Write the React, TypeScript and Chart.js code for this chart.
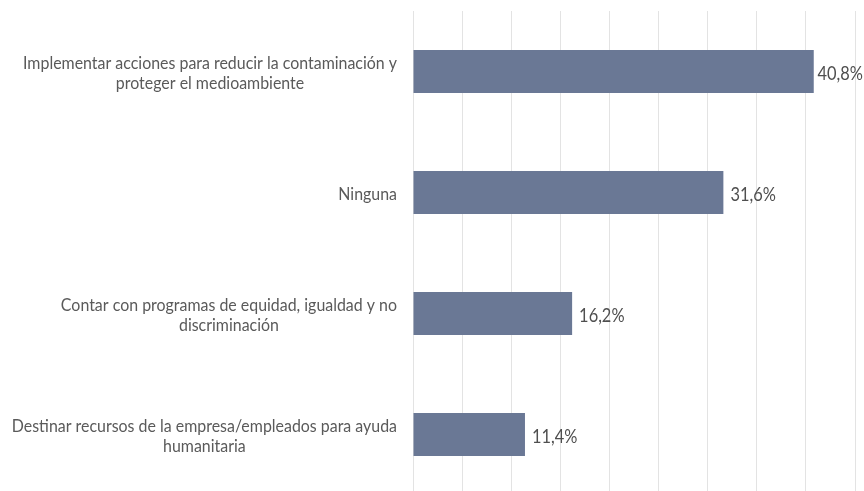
import React, { useEffect, useRef } from "react";
import { Chart, registerables } from "chart.js";

Chart.register(...registerables);

const categories: string[][] = [
  ["Implementar acciones para reducir la contaminación y", "proteger el medioambiente"],
  ["Ninguna"],
  ["Contar con programas de equidad, igualdad y no", "discriminación"],
  ["Destinar recursos de la empresa/empleados para ayuda", "humanitaria"],
];
const values: number[] = [40.8, 31.6, 16.2, 11.4];
const valueLabels: string[] = ["40,8%", "31,6%", "16,2%", "11,4%"];

const LABEL_FONT = "18px Lato, 'Open Sans', sans-serif";
const LABEL_SX = 0.885;
const VALUE_FONT = "20px Lato, 'Open Sans', sans-serif";
const VALUE_SX = 0.82;

const labelPlugin = {
  id: "customLabels",
  afterDatasetsDraw(chart: any) {
    const ctx = chart.ctx;
    const yScale = chart.scales.y;
    const meta = chart.getDatasetMeta(0);
    ctx.save();
    ctx.font = LABEL_FONT;
    ctx.fillStyle = "#5a5a5a";
    ctx.textBaseline = "middle";
    ctx.textAlign = "center";
    const rightEdge = chart.chartArea.left - 16;
    const lineH = 20;
    categories.forEach((lines, i) => {
      const cy = yScale.getPixelForValue(i) + 1.5;
      const maxW = Math.max(...lines.map((l) => ctx.measureText(l).width)) * LABEL_SX;
      const cx = rightEdge - maxW / 2;
      const startY = cy - ((lines.length - 1) * lineH) / 2;
      lines.forEach((l, j) => {
        ctx.save();
        ctx.translate(cx, startY + j * lineH);
        ctx.scale(LABEL_SX, 1);
        ctx.fillText(l, 0, 0);
        ctx.restore();
      });
    });
    ctx.font = VALUE_FONT;
    ctx.fillStyle = "#4f4f4f";
    ctx.textAlign = "left";
    meta.data.forEach((bar: any, i: number) => {
      const w = ctx.measureText(valueLabels[i]).width * VALUE_SX;
      const x = Math.min(bar.x + 7, chart.width - 1 - w);
      ctx.save();
      ctx.translate(Math.max(x, bar.x + 1), bar.y + 2);
      ctx.scale(VALUE_SX, 1);
      ctx.fillText(valueLabels[i], 0, 0);
      ctx.restore();
    });
    ctx.restore();
  },
};

export default function App() {
  const ref = useRef<HTMLCanvasElement | null>(null);
  useEffect(() => {
    if (!ref.current) return;
    const chart = new Chart(ref.current, {
      type: "bar",
      data: {
        labels: categories.map((c) => c.join(" ")),
        datasets: [
          {
            data: values,
            backgroundColor: "#6a7895",
            borderWidth: 0,
            categoryPercentage: 1,
            barPercentage: 0.355,
          },
        ],
      },
      options: {
        indexAxis: "y",
        animation: false,
        responsive: false,
        maintainAspectRatio: false,
        layout: { padding: { left: 413, right: 9, top: 11, bottom: 5 } },
        plugins: { legend: { display: false }, tooltip: { enabled: false } },
        scales: {
          x: {
            min: 0,
            max: 45,
            ticks: { display: false, stepSize: 5 },
            grid: { color: "#e3e3e3", drawTicks: false, lineWidth: 1 },
            border: { display: false },
          },
          y: {
            ticks: { display: false },
            grid: { display: false, drawTicks: false },
            border: { display: false },
          },
        },
      },
      plugins: [labelPlugin],
    });
    return () => chart.destroy();
  }, []);
  return (
    <div style={{ position: "fixed", left: 0, top: 0, width: 864, height: 500, background: "#fff" }}>
      <canvas ref={ref} width={864} height={500} style={{ width: 864, height: 500 }} />
    </div>
  );
}
